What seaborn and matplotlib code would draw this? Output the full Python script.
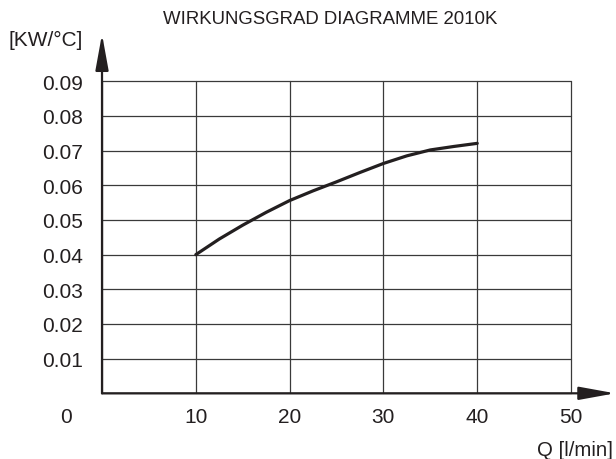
import matplotlib
matplotlib.use("Agg")
import matplotlib.pyplot as plt
import seaborn as sns
import pandas as pd

flow = [10, 12.5, 15, 17.5, 20, 22.5, 25, 27.5, 30, 32.5, 35, 37.5, 40]
efficiency = [0.0400, 0.0445, 0.0485, 0.0522, 0.0556, 0.0584, 0.0610, 0.0637, 0.0663,
              0.0685, 0.0702, 0.0712, 0.0721]
x_ticks = [10, 20, 30, 40, 50]
y_ticks = [0.01, 0.02, 0.03, 0.04, 0.05, 0.06, 0.07, 0.08, 0.09]

sns.set_theme(style="white")
plt.rcParams['font.family'] = ['Liberation Sans', 'DejaVu Sans']
ink = '#231f20'

df = pd.DataFrame({'Q': flow, 'kw': efficiency})

fig = plt.figure(figsize=(6.16, 4.6), dpi=100)
ax = fig.add_axes([0.1656, 0.1428, 0.7614, 0.6783])

sns.lineplot(data=df, x='Q', y='kw', color=ink, linewidth=2.3, ax=ax)

ax.set_xlim(0, 50)
ax.set_ylim(0, 0.09)
ax.set_xticks([0] + x_ticks)
ax.set_xticklabels([''] + [str(t) for t in x_ticks])
ax.set_yticks([0] + y_ticks)
ax.set_yticklabels([''] + ['%.2f' % t for t in y_ticks])
ax.grid(True, color='#3a3a3a', linewidth=0.9)
for l in ax.get_xgridlines() + ax.get_ygridlines():
    l.set_clip_on(False)
for s in ax.spines.values():
    s.set_visible(False)
ax.tick_params(axis='x', length=0, pad=10, labelsize=15, labelcolor=ink)
ax.tick_params(axis='y', length=0, pad=14, labelsize=15, labelcolor=ink)
ax.set_xlabel('')
ax.set_ylabel('')

# axes with arrows
arrow = dict(arrowstyle='-|>,head_length=2.2,head_width=0.4', mutation_scale=10,
             color=ink, linewidth=1.6, shrinkA=0, shrinkB=0)
ax.annotate('', xy=(54.7, 0), xytext=(0, 0), arrowprops=arrow, annotation_clip=False)
ax.annotate('', xy=(0, 0.1036), xytext=(0, 0), arrowprops=arrow, annotation_clip=False)

fig.text(66 / 616, 1 - 418 / 460, '0', ha='center', va='center', fontsize=15, color=ink)
fig.text(613 / 616, 1 - 451 / 460, 'Q [l/min]', ha='right', va='center', fontsize=14.7, color=ink)
fig.text(46 / 616, 1 - 40 / 460, '[KW/°C]', ha='center', va='center', fontsize=15, color=ink)
fig.text(330 / 616, 1 - 20 / 460, 'WIRKUNGSGRAD DIAGRAMME 2010K', ha='center', va='center',
         fontsize=13.4, color=ink)

fig.savefig('out.png', dpi=100)
